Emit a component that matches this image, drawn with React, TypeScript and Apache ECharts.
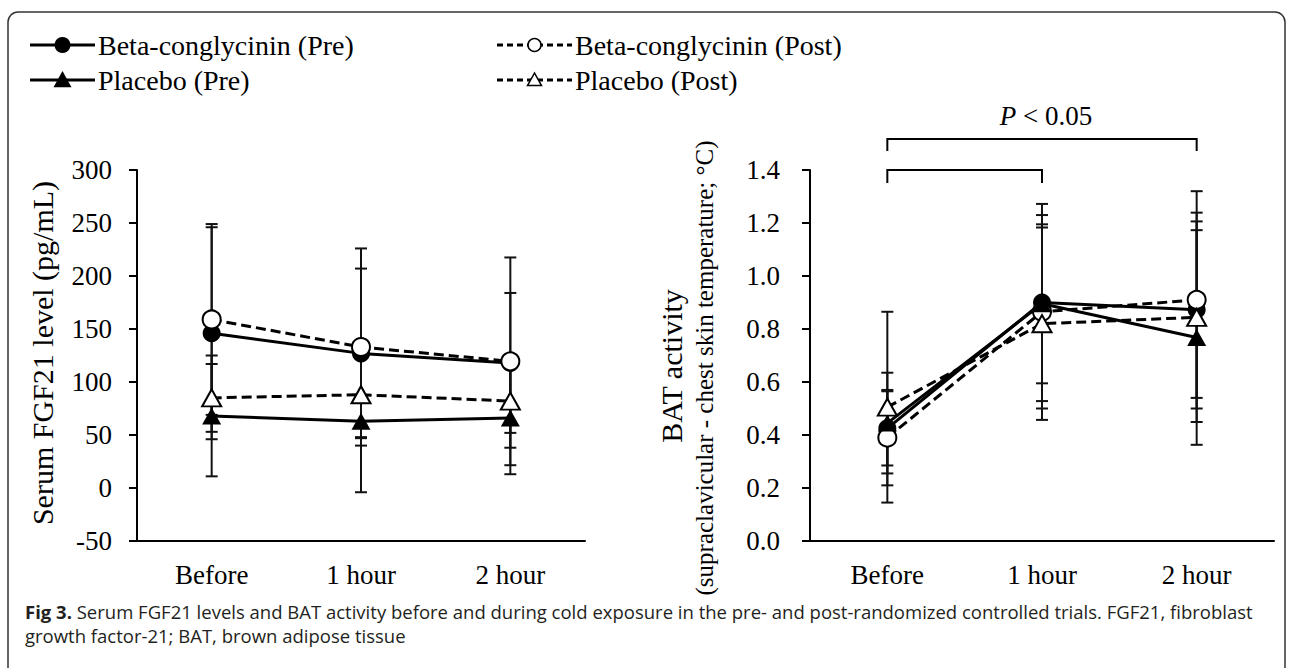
import React, { useEffect, useRef } from "react";
import * as echarts from "echarts";

const categories = ["Before", "1 hour", "2 hour"];
const seriesNames = [
  "Beta-conglycinin (Pre)",
  "Beta-conglycinin (Post)",
  "Placebo (Pre)",
  "Placebo (Post)",
];

// Serum FGF21 (pg/mL): means and SD
const fgfBetaPre = [146, 127, 118];
const fgfBetaPreSd = [100, 80, 66];
const fgfBetaPost = [159, 133, 119.5];
const fgfBetaPostSd = [90, 93, 98];
const fgfPlaceboPre = [68, 63, 66];
const fgfPlaceboPreSd = [57, 67, 53];
const fgfPlaceboPost = [85, 88, 82];
const fgfPlaceboPostSd = [32, 40, 44];

// BAT activity (°C): means and SD
const batBetaPre = [0.425, 0.9, 0.873];
const batBetaPreSd = [0.14, 0.372, 0.333];
const batBetaPost = [0.39, 0.865, 0.91];
const batBetaPostSd = [0.18, 0.365, 0.41];
const batPlaceboPre = [0.445, 0.895, 0.768];
const batPlaceboPreSd = [0.19, 0.3, 0.405];
const batPlaceboPost = [0.505, 0.82, 0.844];
const batPlaceboPostSd = [0.36, 0.363, 0.395];

const fgfAxis = { min: -50, max: 300, interval: 50 };
const batAxis = { min: 0, max: 1.4, interval: 0.2 };

const SERIF = "Liberation Serif";
const SANS = "Open Sans";

const styles = [
  { dashed: false, symbol: "circle", filled: true },
  { dashed: true, symbol: "circle", filled: false },
  { dashed: false, symbol: "triangle", filled: true },
  { dashed: true, symbol: "triangle", filled: false },
];

function errRender(params: any, api: any) {
  const x = api.value(0);
  const lo = api.coord([x, api.value(1)]);
  const hi = api.coord([x, api.value(2)]);
  const cw = 6;
  const style = { stroke: "#111", lineWidth: 2 };
  return {
    type: "group",
    children: [
      { type: "line", shape: { x1: lo[0], y1: lo[1], x2: hi[0], y2: hi[1] }, style },
      { type: "line", shape: { x1: lo[0] - cw, y1: lo[1], x2: lo[0] + cw, y2: lo[1] }, style },
      { type: "line", shape: { x1: hi[0] - cw, y1: hi[1], x2: hi[0] + cw, y2: hi[1] }, style },
    ],
  };
}

function buildSeries(idx: number, means: number[][], sds: number[][]) {
  const out: any[] = [];
  means.forEach((m, i) => {
    out.push({
      type: "custom",
      name: seriesNames[i] + " SD",
      xAxisIndex: idx,
      yAxisIndex: idx,
      renderItem: errRender,
      encode: { x: 0, y: [1, 2] },
      data: m.map((v, k) => [k, v - sds[i][k], v + sds[i][k]]),
      z: 1,
      silent: true,
    });
  });
  means.forEach((m, i) => {
    const s = styles[i];
    out.push({
      type: "line",
      name: seriesNames[i],
      xAxisIndex: idx,
      yAxisIndex: idx,
      data: m,
      symbol: s.symbol,
      symbolSize: s.symbol === "circle" ? 18 : [19, 17],
      showAllSymbol: true,
      lineStyle: { color: "#000", width: 3, type: s.dashed ? [10, 5] : "solid" },
      itemStyle: {
        color: s.filled ? "#000" : "#fff",
        borderColor: "#000",
        borderWidth: s.filled ? 0 : 2,
      },
      z: 3 + i,
    });
  });
  return out;
}

function yAxisCfg(idx: number, ax: any, margin: number, fmt?: (v: number) => string) {
  return {
    type: "value",
    gridIndex: idx,
    min: ax.min,
    max: ax.max,
    interval: ax.interval,
    axisLine: { show: true, lineStyle: { color: "#000", width: 2 } },
    axisTick: { show: true, inside: false, length: 8, lineStyle: { color: "#000", width: 2 } },
    splitLine: { show: false },
    axisLabel: {
      color: "#000",
      fontFamily: SERIF,
      fontSize: 27,
      margin,
      formatter: fmt,
    },
  };
}

function xAxisCfg(idx: number) {
  return {
    type: "category",
    gridIndex: idx,
    data: categories,
    boundaryGap: true,
    axisLine: { show: true, onZero: false, lineStyle: { color: "#000", width: 2 } },
    axisTick: { show: false },
    axisLabel: { color: "#000", fontFamily: SERIF, fontSize: 27, margin: 20 },
  };
}

export default function App() {
  const ref = useRef<HTMLDivElement>(null);
  useEffect(() => {
    const chart = echarts.init(ref.current!, null, { renderer: "svg" });
    chart.setOption({
      animation: false,
      backgroundColor: "#fff",
      grid: [
        { left: 137, top: 170, width: 448, height: 371 },
        { left: 810, top: 170, width: 464, height: 371 },
      ],
      xAxis: [xAxisCfg(0), xAxisCfg(1)],
      yAxis: [
        yAxisCfg(0, fgfAxis, 25),
        yAxisCfg(1, batAxis, 30, (v: number) => v.toFixed(1)),
      ],
      series: [
        ...buildSeries(0, [fgfBetaPre, fgfBetaPost, fgfPlaceboPre, fgfPlaceboPost], [fgfBetaPreSd, fgfBetaPostSd, fgfPlaceboPreSd, fgfPlaceboPostSd]),
        ...buildSeries(1, [batBetaPre, batBetaPost, batPlaceboPre, batPlaceboPost], [batBetaPreSd, batBetaPostSd, batPlaceboPreSd, batPlaceboPostSd]),
      ],
    });

    const xBefore = chart.convertToPixel({ xAxisIndex: 1 } as any, categories[0]) as any as number;
    const x1h = chart.convertToPixel({ xAxisIndex: 1 } as any, categories[1]) as any as number;
    const x2h = chart.convertToPixel({ xAxisIndex: 1 } as any, categories[2]) as any as number;

    const g: any[] = [];
    g.push({
      type: "rect",
      shape: { x: 8, y: 12, width: 1277, height: 700, r: 10 },
      style: { fill: "none", stroke: "#333", lineWidth: 1.5 },
      z: 0,
    });
    // legend
    const legendPos = [
      { x: 30, y: 45 },
      { x: 497, y: 45 },
      { x: 30, y: 80 },
      { x: 497, y: 80 },
    ];
    legendPos.forEach((p, i) => {
      const s = styles[i];
      const w = s.dashed ? 75 : 65;
      const cx = p.x + w / 2;
      g.push({
        type: "line",
        shape: { x1: p.x, y1: p.y, x2: p.x + w, y2: p.y },
        style: { stroke: "#000", lineWidth: 3, lineDash: s.dashed ? [6, 4] : null },
      });
      const r = s.filled ? 8 : 6.5;
      if (s.symbol === "circle") {
        g.push({
          type: "circle",
          shape: { cx, cy: p.y, r },
          style: { fill: s.filled ? "#000" : "#fff", stroke: "#000", lineWidth: s.filled ? 0 : 1.5 },
        });
      } else {
        const sz = s.filled ? 18 : 14;
        g.push({
          type: "polygon",
          shape: {
            points: [
              [cx, p.y - sz * 0.5],
              [cx - sz / 2, p.y + sz * 0.4],
              [cx + sz / 2, p.y + sz * 0.4],
            ],
          },
          style: { fill: s.filled ? "#000" : "#fff", stroke: "#000", lineWidth: s.filled ? 0 : 1.5 },
        });
      }
      g.push({
        type: "text",
        x: p.x + w + 3,
        y: p.y,
        style: {
          text: seriesNames[i],
          fontFamily: SERIF,
          fontSize: 28,
          fill: "#000",
          align: "left",
          verticalAlign: "middle",
        },
      });
    });
    // axis titles
    g.push({
      type: "text",
      x: 42,
      y: 353,
      rotation: Math.PI / 2,
      style: {
        text: "Serum FGF21 level (pg/mL)",
        fontFamily: SERIF,
        fontSize: 30,
        fill: "#000",
        align: "center",
        verticalAlign: "middle",
      },
    });
    g.push({
      type: "text",
      x: 671,
      y: 366,
      rotation: Math.PI / 2,
      style: {
        text: "BAT activity",
        fontFamily: SERIF,
        fontSize: 30,
        fill: "#000",
        align: "center",
        verticalAlign: "middle",
      },
    });
    g.push({
      type: "text",
      x: 704,
      y: 368,
      rotation: Math.PI / 2,
      style: {
        text: "(supraclavicular - chest skin temperature; °C)",
        fontFamily: SERIF,
        fontSize: 25,
        fill: "#000",
        align: "center",
        verticalAlign: "middle",
      },
    });
    // significance brackets
    const bStyle = { stroke: "#000", lineWidth: 2, fill: "none" };
    g.push({
      type: "polyline",
      shape: { points: [[xBefore, 151], [xBefore, 139], [x2h, 139], [x2h, 151]] },
      style: bStyle,
    });
    g.push({
      type: "polyline",
      shape: { points: [[xBefore, 183], [xBefore, 170], [x1h, 170], [x1h, 183]] },
      style: bStyle,
    });
    g.push({
      type: "text",
      x: (xBefore + x2h) / 2 + 4,
      y: 116,
      style: {
        text: "{i|P} < 0.05",
        rich: { i: { fontStyle: "italic", fontFamily: SERIF, fontSize: 27, fill: "#000" } },
        fontFamily: SERIF,
        fontSize: 27,
        fill: "#000",
        align: "center",
        verticalAlign: "middle",
      },
    });
    // caption
    g.push({
      type: "text",
      x: 25,
      y: 611,
      style: {
        text:
          "{b|Fig 3.} Serum FGF21 levels and BAT activity before and during cold exposure in the pre- and post-randomized controlled trials. FGF21, fibroblast",
        rich: { b: { fontWeight: "bold", fontFamily: SANS, fontSize: 18.5, fill: "#231f20" } },
        fontFamily: SANS,
        fontSize: 18.5,
        fill: "#231f20",
        align: "left",
        verticalAlign: "middle",
      },
    });
    g.push({
      type: "text",
      x: 25,
      y: 635,
      style: {
        text: "growth factor-21; BAT, brown adipose tissue",
        fontFamily: SANS,
        fontSize: 18.5,
        fill: "#231f20",
        align: "left",
        verticalAlign: "middle",
      },
    });
    chart.setOption({ graphic: g });
    return () => chart.dispose();
  }, []);
  return (
    <div
      ref={ref}
      style={{ position: "absolute", left: 0, top: 0, width: 1292, height: 668, background: "#fff" }}
    />
  );
}
